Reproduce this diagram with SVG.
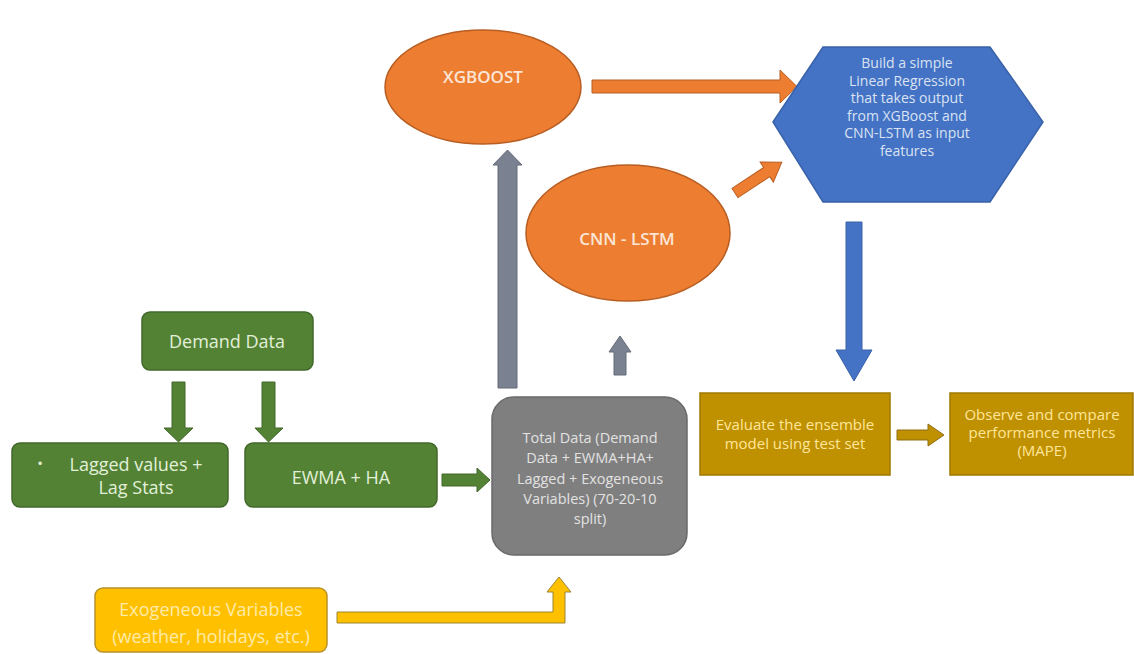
<svg xmlns="http://www.w3.org/2000/svg" width="1134" height="654" viewBox="0 0 1134 654">
<style>
text{font-family:"Open Sans","Liberation Sans",sans-serif;text-anchor:middle}
.g{fill:#548235;stroke:#41682A;stroke-width:1.5}
.gt{fill:#E2F0D9;font-size:18px}
.o{fill:#ED7D31;stroke:#B85E22;stroke-width:1.5}
.ot{fill:#FBE5D6;font-size:17px;font-weight:600}
.b{fill:#4472C4;stroke:#3A62A8;stroke-width:1.5}
.bt{fill:#DAE3F3;font-size:14px}
.y{fill:#BF9000;stroke:#A07800;stroke-width:1.5}
.yt{fill:#FFE699;font-size:15px}
.gr{fill:#7F7F7F;stroke:#6A6A6A;stroke-width:1.5}
.grt{fill:#E2E2E2;font-size:14.5px}
.ex{fill:#FFC000;stroke:#B8922A;stroke-width:1.5}
.ext{fill:#FFEBA8;font-size:18px}
.ag{fill:#548235;stroke:#41682A;stroke-width:1}
.ao{fill:#ED7D31;stroke:#B85E22;stroke-width:1}
.ab{fill:#4472C4;stroke:#3A62A8;stroke-width:1}
.ay{fill:#BF9000;stroke:#8F6E10;stroke-width:1}
.as{fill:#7A8190;stroke:#646B78;stroke-width:1}
.ae{fill:#FFC000;stroke:#9C8530;stroke-width:1}
</style>
<rect width="1134" height="654" fill="#ffffff"/>
<g id="connectors">
<polygon class="ag" points="172,382 185,382 185,428 193,428 178.5,442 164,428 172,428"/>
<polygon class="ag" points="262,382 275,382 275,428 283,428 268.5,442 255,428 262,428"/>
<polygon class="ag" points="442,474 477,474 477,468 490,480 477,492 477,486 442,486"/>
<polygon class="as" points="498,388 498,165 493,165 507.5,150 522,165 517,165 517,388"/>
<polygon class="as" points="614,375 614,352 609,352 620,336 631,352 626,352 626,375"/>
<polygon class="ao" points="592,80 780,80 780,70 797,86.5 780,103 780,93 592,93"/>
<polygon class="ao" points="0,-5.5 38,-5.5 38,-12 56,0 38,12 38,5.5 0,5.5" transform="translate(735,193) rotate(-33.4)"/>
<polygon class="ab" points="846,222 862,222 862,350 872,350 854,381 836,350 846,350"/>
<polygon class="ay" points="897,430 928,430 928,424 944,435 928,446 928,440 897,440"/>
<polygon class="ae" points="337,612 553,612 553,592 547,592 559,577 571,592 565,592 565,623 337,623"/>
</g>
<g id="demand">
<rect class="g" x="142" y="312" width="171" height="58" rx="8"/>
<text class="gt" x="227" y="348">Demand Data</text>
</g>
<g id="lagged">
<rect class="g" x="12" y="443" width="216" height="64" rx="8"/>
<text class="gt" x="40" y="469" style="font-size:15px">•</text>
<text class="gt" x="136" y="471">Lagged values +</text>
<text class="gt" x="136" y="494">Lag Stats</text>
</g>
<g id="ewma">
<rect class="g" x="245" y="443" width="192" height="64" rx="8"/>
<text class="gt" x="341" y="484">EWMA + HA</text>
</g>
<g id="total">
<rect class="gr" x="492" y="397" width="195" height="158" rx="22"/>
<text class="grt" x="590" y="443">Total Data (Demand</text>
<text class="grt" x="590" y="463">Data + EWMA+HA+</text>
<text class="grt" x="590" y="484">Lagged + Exogeneous</text>
<text class="grt" x="590" y="504">Variables)  (70-20-10</text>
<text class="grt" x="590" y="524">split)</text>
</g>
<g id="xgboost">
<ellipse class="o" cx="483" cy="87" rx="98" ry="57"/>
<text class="ot" x="483" y="83">XGBOOST</text>
</g>
<g id="cnnlstm">
<ellipse class="o" cx="628" cy="233" rx="102" ry="68"/>
<text class="ot" x="627" y="245">CNN - LSTM</text>
</g>
<g id="linreg">
<polygon class="b" points="773,122 823,47 990,47 1043,122 990,202 823,202"/>
<text class="bt" x="907" y="68">Build a simple</text>
<text class="bt" x="907" y="86">Linear Regression</text>
<text class="bt" x="907" y="103">that takes output</text>
<text class="bt" x="907" y="121">from XGBoost and</text>
<text class="bt" x="907" y="138">CNN-LSTM as input</text>
<text class="bt" x="907" y="156">features</text>
</g>
<g id="evaluate">
<rect class="y" x="700" y="393" width="190" height="82"/>
<text class="yt" x="795" y="430">Evaluate the ensemble</text>
<text class="yt" x="795" y="449">model using test set</text>
</g>
<g id="observe">
<rect class="y" x="950" y="393" width="183" height="82"/>
<text class="yt" x="1042" y="420">Observe and compare</text>
<text class="yt" x="1042" y="438">performance metrics</text>
<text class="yt" x="1042" y="456">(MAPE)</text>
</g>
<g id="exogeneous">
<rect class="ex" x="95" y="588" width="232" height="64" rx="8"/>
<text class="ext" x="211" y="616">Exogeneous Variables</text>
<text class="ext" x="211" y="643">(weather, holidays, etc.)</text>
</g>
</svg>
